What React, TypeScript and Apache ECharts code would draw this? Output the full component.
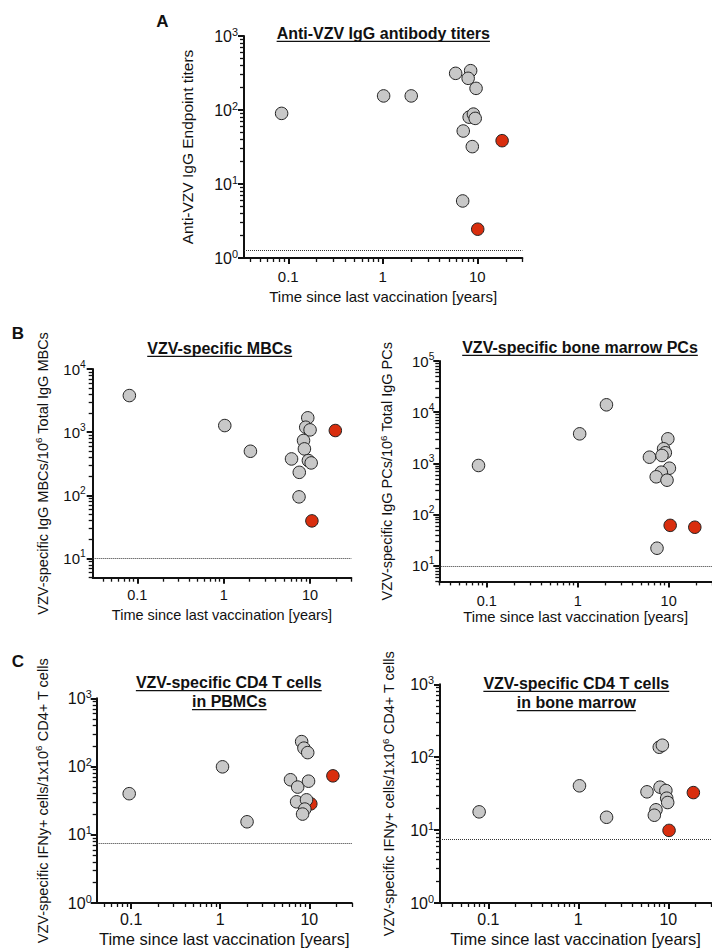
import React, { useEffect, useRef } from 'react';
import * as echarts from 'echarts';

const FONT = '"Liberation Sans", Arial, Helvetica, sans-serif';
const GREY = '#c8c8c8';
const RED = '#d92e0e';
const INK = '#111111';

// shared tick values
const xMajorTicks = [0.1, 1, 10];
const xTickLabels = ['0.1', '1', '10'];
const xAxisTitle = 'Time since last vaccination [years]';

// Panel A: Anti-VZV IgG antibody titers
const aGreyX = [0.085, 1.02, 2.0, 5.9, 8.5, 8.0, 9.7, 8.2, 9.1, 9.5, 7.1, 8.85, 7.0];
const aGreyY = [90, 155, 155, 313, 340, 268, 196, 80, 88, 77, 52, 32, 5.9];
const aRedX = [18.3, 10.1];
const aRedY = [38.5, 2.45];
const aLimit = 1.28;
const aYTicks = [1, 10, 100, 1000];

// Panel B left: VZV-specific MBCs
const bmGreyX = [0.081, 1.03, 2.04, 9.4, 8.9, 10.0, 8.4, 8.6, 6.1, 9.56, 10.3, 7.5, 7.45];
const bmGreyY = [3800, 1275, 500, 1690, 1200, 1090, 740, 545, 378, 356, 327, 232, 95];
const bmRedX = [19.6, 10.5];
const bmRedY = [1064, 39.6];
const bmLimit = 10;
const bmYTicks = [10, 100, 1000, 10000];

// Panel B right: VZV-specific bone marrow PCs
const bpGreyX = [0.081, 1.05, 2.07, 9.8, 8.8, 9.2, 6.15, 8.45, 10.2, 8.3, 7.3, 9.6, 7.45];
const bpGreyY = [914, 3790, 13960, 3030, 1936, 1620, 1327, 1433, 809, 676, 550, 472, 22.2];
const bpRedX = [10.4, 19.4];
const bpRedY = [62, 57];
const bpLimit = 10;
const bpYTicks = [10, 100, 1000, 10000, 100000];

// Panel C left: CD4 T cells in PBMCs
const cpGreyX = [0.095, 1.06, 2.0, 8.2, 8.7, 9.6, 6.15, 7.4, 9.8, 7.2, 9.3, 8.9, 8.4];
const cpGreyY = [40, 99, 15.5, 232, 186, 160, 64, 50, 61, 30.4, 32.5, 23.8, 20.1];
const cpRedX = [18.4, 10.4];
const cpRedY = [73, 28.4];
const cpLimit = 7.55;
const cpYTicks = [1, 10, 100, 1000];

// Panel C right: CD4 T cells in bone marrow
const cbGreyX = [0.079, 1.03, 2.06, 7.94, 8.6, 5.8, 8.1, 9.4, 9.6, 9.85, 7.3, 7.0];
const cbGreyY = [17.8, 40.5, 15, 137, 146, 33.5, 38.8, 34.9, 27.4, 23.9, 19, 16];
const cbRedX = [19.0, 10.2];
const cbRedY = [32.7, 9.9];
const cbLimit = 7.4;
const cbYTicks = [1, 10, 100, 1000];

const zip = (xs: number[], ys: number[]) => xs.map((x, i) => [x, ys[i]]);

function minorTicks(min: number, max: number) {
  const out: number[] = [];
  for (let e = -3; e <= 6; e++) {
    for (let k = 2; k <= 9; k++) {
      const v = k * Math.pow(10, e);
      if (v >= min * 0.9999 && v <= max * 1.0001) out.push(v);
    }
  }
  return out;
}

type Panel = {
  left: number; top: number; width: number; height: number;
  xMin: number; xMax: number; yMin: number; yMax: number; yTicks: number[];
  greyX: number[]; greyY: number[]; redX: number[]; redY: number[]; limit: number;
  yName: string;
  yLabelSize: number; xLabelSize: number; xNameSize: number; yNameSize: number;
  yNameGap: number; xNameGap: number; xLabelMargin: number; yLabelMargin: number;
};

const panels: Panel[] = [
  {
    left: 244, top: 36, width: 278.4, height: 222,
    xMin: 0.034, xMax: 30, yMin: 1, yMax: 1000, yTicks: aYTicks,
    greyX: aGreyX, greyY: aGreyY, redX: aRedX, redY: aRedY, limit: aLimit,
    yName: 'Anti-VZV IgG Endpoint titers',
    yLabelSize: 16, xLabelSize: 15, xNameSize: 15, yNameSize: 15.5,
    yNameGap: 48, xNameGap: 31, xLabelMargin: 11, yLabelMargin: 6,
  },
  {
    left: 92.7, top: 369, width: 258.6, height: 208.7,
    xMin: 0.0305, xMax: 30, yMin: 5, yMax: 10000, yTicks: bmYTicks,
    greyX: bmGreyX, greyY: bmGreyY, redX: bmRedX, redY: bmRedY, limit: bmLimit,
    yName: 'VZV-specific IgG MBCs/10{sup|6} Total IgG MBCs',
    yLabelSize: 15, xLabelSize: 14.5, xNameSize: 14.5, yNameSize: 14.5,
    yNameGap: 41, xNameGap: 30, xLabelMargin: 10, yLabelMargin: 7,
  },
  {
    left: 439.3, top: 361, width: 274.3, height: 220.4,
    xMin: 0.03, xMax: 30, yMin: 5, yMax: 100000, yTicks: bpYTicks,
    greyX: bpGreyX, greyY: bpGreyY, redX: bpRedX, redY: bpRedY, limit: bpLimit,
    yName: 'VZV-specific IgG PCs/10{sup|6} Total IgG PCs',
    yLabelSize: 15, xLabelSize: 14.5, xNameSize: 14.8, yNameSize: 14.5,
    yNameGap: 43, xNameGap: 27, xLabelMargin: 12, yLabelMargin: 5,
  },
  {
    left: 96.7, top: 698.3, width: 255.1, height: 205,
    xMin: 0.041, xMax: 30, yMin: 1, yMax: 1000, yTicks: cpYTicks,
    greyX: cpGreyX, greyY: cpGreyY, redX: cpRedX, redY: cpRedY, limit: cpLimit,
    yName: 'VZV-specific IFNy+ cells/1x10{sup|6} CD4+ T cells',
    yLabelSize: 16, xLabelSize: 16, xNameSize: 16.5, yNameSize: 14.5,
    yNameGap: 45, xNameGap: 27, xLabelMargin: 8, yLabelMargin: 5,
  },
  {
    left: 440, top: 684.3, width: 271.2, height: 219,
    xMin: 0.029, xMax: 30, yMin: 1, yMax: 1000, yTicks: cbYTicks,
    greyX: cbGreyX, greyY: cbGreyY, redX: cbRedX, redY: cbRedY, limit: cbLimit,
    yName: 'VZV-specific IFNy+ cells/1x10{sup|6} CD4+ T cells',
    yLabelSize: 16, xLabelSize: 16, xNameSize: 16.5, yNameSize: 14.5,
    yNameGap: 42, xNameGap: 27, xLabelMargin: 8, yLabelMargin: 6,
  },
];

const titles = [
  { text: 'Anti-VZV IgG antibody titers', x: 383.3, y: 33.3 },
  { text: 'VZV-specific MBCs', x: 219.7, y: 348.3 },
  { text: 'VZV-specific bone marrow PCs', x: 580, y: 347.3 },
  { text: 'VZV-specific CD4 T cells', x: 228.8, y: 682.7 },
  { text: 'in PBMCs', x: 229.3, y: 701.7 },
  { text: 'VZV-specific CD4 T cells', x: 576.3, y: 683.3 },
  { text: 'in bone marrow', x: 576.3, y: 702.7 },
];

const letters = [
  { text: 'A', x: 162.5, y: 21 },
  { text: 'B', x: 18, y: 333 },
  { text: 'C', x: 18, y: 661 },
];

function measure(text: string, font: string) {
  const c = document.createElement('canvas').getContext('2d');
  if (!c) return text.length * 9;
  c.font = font;
  return c.measureText(text).width;
}

function buildOption() {
  const grid: any[] = [];
  const xAxis: any[] = [];
  const yAxis: any[] = [];
  const series: any[] = [];

  panels.forEach((p, i) => {
    grid.push({ left: p.left, top: p.top, width: p.width, height: p.height });
    const xLabelFmt = (v: number) => {
      const k = xMajorTicks.findIndex((t) => Math.abs(t - v) / t < 1e-6);
      return k >= 0 ? xTickLabels[k] : '';
    };
    const yFmt = (v: number) => `10{sup|${Math.round(Math.log10(v))}}`;

    // main axes: line, major ticks, labels, names
    xAxis.push({
      type: 'log', gridIndex: i, position: 'bottom',
      min: p.xMin, max: p.xMax,
      axisLine: { show: true, onZero: false, lineStyle: { color: INK, width: 2 } },
      axisTick: { show: true, customValues: xMajorTicks, length: 6, lineStyle: { color: INK, width: 2 } },
      axisLabel: {
        customValues: xMajorTicks, formatter: xLabelFmt, margin: p.xLabelMargin,
        fontSize: p.xLabelSize, fontFamily: FONT, color: INK,
      },
      splitLine: { show: false },
      name: xAxisTitle, nameLocation: 'middle', nameGap: p.xNameGap,
      nameTextStyle: { fontSize: p.xNameSize, fontFamily: FONT, color: INK },
    });
    // overlay axes: minor ticks only
    xAxis.push({
      type: 'log', gridIndex: i, position: 'bottom',
      min: p.xMin, max: p.xMax,
      axisLine: { show: false, onZero: false },
      axisTick: { show: true, customValues: minorTicks(p.xMin, p.xMax), length: 4, lineStyle: { color: INK, width: 1.3 } },
      axisLabel: { show: false },
      splitLine: { show: false },
    });
    yAxis.push({
      type: 'log', gridIndex: i, position: 'left',
      min: p.yMin, max: p.yMax,
      axisLine: { show: true, onZero: false, lineStyle: { color: INK, width: 2 } },
      axisTick: { show: true, customValues: p.yTicks, length: 6, lineStyle: { color: INK, width: 2 } },
      axisLabel: {
        customValues: p.yTicks, formatter: yFmt, margin: p.yLabelMargin,
        fontSize: p.yLabelSize, fontFamily: FONT, color: INK, lineHeight: 20,
        rich: {
          sup: { fontSize: p.yLabelSize * 0.68, fontFamily: FONT, color: INK, lineHeight: 10, verticalAlign: 'top' },
        },
      },
      splitLine: { show: false },
      name: p.yName, nameLocation: 'middle', nameGap: p.yNameGap, nameRotate: 90,
      nameTextStyle: {
        fontSize: p.yNameSize, fontFamily: FONT, color: INK, lineHeight: 18,
        rich: {
          sup: { fontSize: p.yNameSize * 0.68, fontFamily: FONT, color: INK, lineHeight: 9, verticalAlign: 'top' },
        },
      },
    });
    yAxis.push({
      type: 'log', gridIndex: i, position: 'left',
      min: p.yMin, max: p.yMax,
      axisLine: { show: false, onZero: false },
      axisTick: { show: true, customValues: minorTicks(p.yMin, p.yMax), length: 4, lineStyle: { color: INK, width: 1.3 } },
      axisLabel: { show: false },
      splitLine: { show: false },
    });

    const axisIdx = { xAxisIndex: 2 * i, yAxisIndex: 2 * i };
    series.push({
      type: 'scatter', ...axisIdx, silent: true,
      data: zip(p.redX, p.redY), symbol: 'circle', symbolSize: 12.5,
      itemStyle: { color: RED, borderColor: '#222', borderWidth: 1, opacity: 1 },
      z: 3,
    });
    series.push({
      type: 'scatter', ...axisIdx, silent: true,
      data: zip(p.greyX, p.greyY), symbol: 'circle', symbolSize: 12.5,
      itemStyle: { color: GREY, borderColor: '#222', borderWidth: 1, opacity: 1 },
      z: 4,
      markLine: {
        silent: true, symbol: ['none', 'none'], label: { show: false },
        lineStyle: { type: 'dotted', color: '#333', width: 1 },
        data: [{ yAxis: p.limit }],
        z: 2,
      },
    });
  });

  const graphic: any[] = [];
  const titleFont = `bold 16px ${FONT}`;
  titles.forEach((t) => {
    const w = measure(t.text, titleFont);
    graphic.push({
      type: 'text', x: t.x, y: t.y, silent: true,
      style: {
        text: t.text, fontSize: 16, fontWeight: 'bold', fontFamily: FONT, fill: INK,
        align: 'center', verticalAlign: 'middle', textAlign: 'center', textVerticalAlign: 'middle',
      },
    });
    graphic.push({
      type: 'line', silent: true,
      shape: { x1: t.x - w / 2, y1: t.y + 8, x2: t.x + w / 2, y2: t.y + 8 },
      style: { stroke: INK, lineWidth: 1.2 },
    });
  });
  letters.forEach((l) => {
    graphic.push({
      type: 'text', x: l.x, y: l.y, silent: true,
      style: {
        text: l.text, fontSize: 17, fontWeight: 'bold', fontFamily: FONT, fill: INK,
        align: 'center', verticalAlign: 'middle', textAlign: 'center', textVerticalAlign: 'middle',
      },
    });
  });

  return {
    animation: false,
    backgroundColor: '#ffffff',
    textStyle: { fontFamily: FONT },
    grid, xAxis, yAxis, series, graphic,
  };
}

export default function App() {
  const ref = useRef<HTMLDivElement | null>(null);
  useEffect(() => {
    if (!ref.current) return;
    const chart = echarts.init(ref.current, undefined, { renderer: 'svg' });
    chart.setOption(buildOption() as any);
    return () => chart.dispose();
  }, []);
  return (
    <div
      ref={ref}
      style={{ position: 'absolute', left: 0, top: 0, width: 712, height: 948, background: '#fff' }}
    />
  );
}
